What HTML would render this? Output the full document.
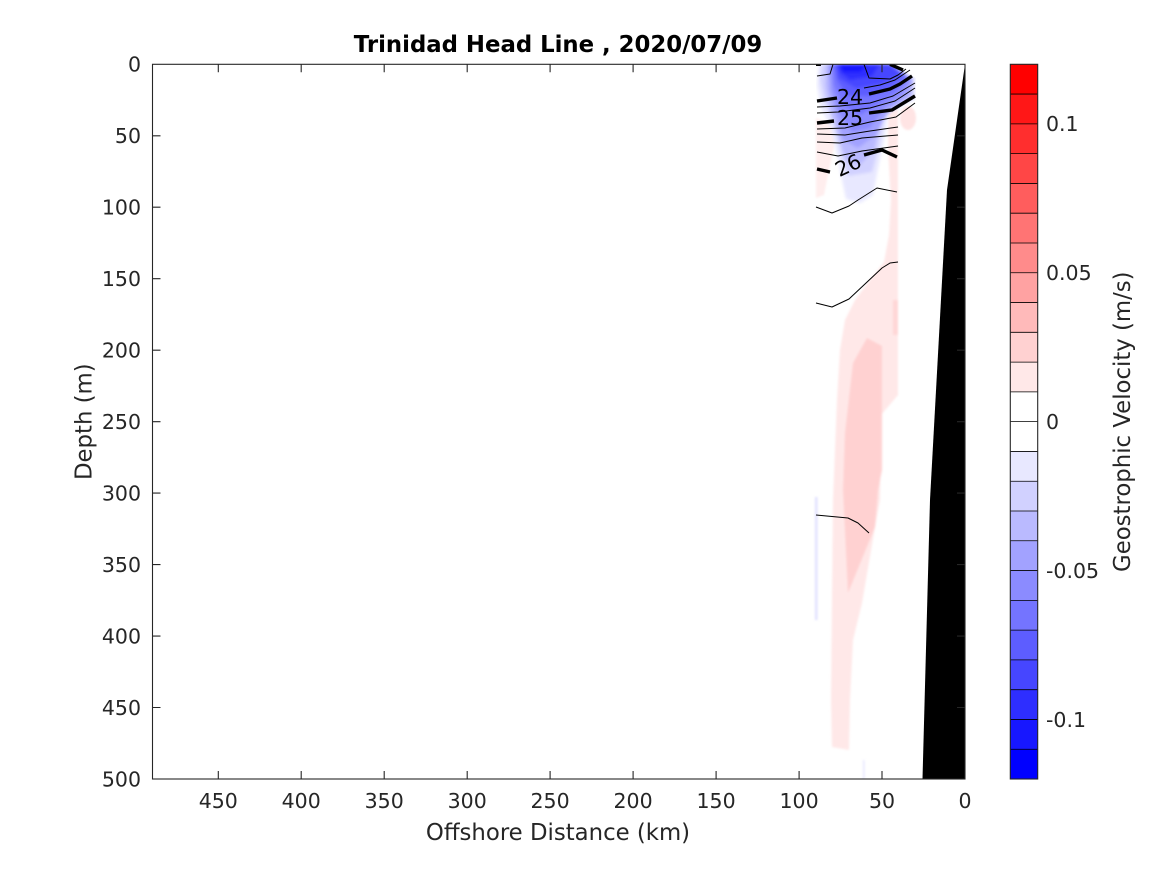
<!DOCTYPE html>
<html><head><meta charset="utf-8"><style>html,body{margin:0;padding:0;background:#fff}svg{display:block}</style></head>
<body>
<svg width="1167" height="875" viewBox="0 0 1167 875" xmlns="http://www.w3.org/2000/svg" font-family="'DejaVu Sans','Liberation Sans',sans-serif">
<rect width="1167" height="875" fill="#fff"/>
<defs>
<clipPath id="ax"><rect x="152.5" y="64.3" width="812.5" height="714.7"/></clipPath>
<clipPath id="dat"><polygon points="816,64.3 893,64.3 916,78 916,100 899,112 899,300 816,300"/></clipPath>
<filter id="bl" x="-30%" y="-30%" width="160%" height="160%"><feGaussianBlur stdDeviation="1.6"/></filter>
<filter id="bl2" x="-30%" y="-30%" width="160%" height="160%"><feGaussianBlur stdDeviation="1"/></filter>
</defs>

<g clip-path="url(#ax)">
  <!-- pink areas -->
  <g filter="url(#bl2)">
    <polygon fill="rgb(255,232,232)" points="888,108 898,108 898,395 881,415 880,500 875,527 862,603 853,640 850,700 849,750 832,747 831,700 832,600 833,500 837,400 840,350 845,320 855,300 870,280 884,262 889,235 891,200 888,150"/>
    <polygon fill="rgb(255,209,209)" points="867,338 882,346 882,470 878,490 875,527 848,593 843,490 845,433 853,363"/>
    <polygon fill="rgb(255,215,215)" points="893,300 898,300 898,335 893,335"/>
    <ellipse cx="908" cy="118" rx="8" ry="12" fill="rgb(255,228,228)"/>
    <polygon fill="rgb(255,238,238)" points="816,118 832,124 836,140 830,165 824,195 816,198"/>
    <rect x="815" y="497" width="2.5" height="123" fill="rgb(225,225,255)"/>
    <rect x="863" y="760" width="1.5" height="19" fill="rgb(230,230,255)"/>
  </g>
  <!-- blue areas -->
  <g clip-path="url(#dat)">
  <g filter="url(#bl)">
    <polygon fill="rgb(232,232,255)" points="819,64 893,64 915,78 915,100 902,106 888,114 884,140 878,168 873,195 860,203 846,199 841,175 836,150 831,128 821,108 817,85"/>
    <polygon fill="rgb(209,209,255)" points="822,64 893,64 914,79 913,97 897,106 884,118 879,145 872,172 848,176 840,150 834,124 824,100 820,80"/>
    <polygon fill="rgb(186,186,255)" points="826,64 893,64 913,79 912,97 893,108 880,125 874,150 860,165 846,160 838,135 830,110 825,85"/>
    <polygon fill="rgb(162,162,255)" points="828,64 893,64 912,80 908,96 888,110 876,135 858,148 843,140 836,115 829,90"/>
    <polygon fill="rgb(139,139,255)" points="830,64 892,64 910,80 902,95 884,108 870,128 852,132 840,115 832,90"/>
    <polygon fill="rgb(116,116,255)" points="832,64 892,64 908,78 896,92 878,104 860,115 843,105 834,85"/>
    <polygon fill="rgb(93,93,255)" points="834,64 890,64 905,76 890,88 870,96 848,96 837,80"/>
    <polygon fill="rgb(70,70,255)" points="836,64 888,64 900,74 880,84 856,88 839,78"/>
    <polygon fill="rgb(46,46,255)" points="838,64 880,64 872,76 850,80 840,72"/>
    <polygon fill="rgb(23,23,255)" points="840,64 868,64 860,72 843,72"/>
  </g>
  </g>

  <!-- bathymetry -->
  <polygon fill="#000" points="965,64.3 947,190 930,500 922.5,779 965,779"/>

  <!-- contour lines -->
  <g fill="none" stroke="#000" stroke-width="1" stroke-linejoin="round">
    <polyline points="817,76 830,74 833,64.3"/>
    <polyline points="864,64.3 869,78 890,79 898,75 906,69"/>
    <polyline points="864,88 880,85 895,80 910,70"/>
    <polyline points="817,107 840,106 870,103 893,96 915,83"/>
    <polyline points="817,113 838,112 870,108 895,101 915,88"/>
    <polyline points="817,129 845,128 870,122 896,117 915,103"/>
    <polyline points="817,134 845,135 870,131 898,127"/>
    <polyline points="817,142 840,143 862,138 898,135"/>
    <polyline points="817,152 838,156 862,151 898,146"/>
    <polyline points="816,207 832,213 849,206 858,200 877,188 897,192"/>
    <polyline points="816,303 832,307 849,299 882,268 890,263 898,262"/>
    <polyline points="816,515 848,518 858,523 869,533"/>
  </g>
  <g fill="none" stroke="#000" stroke-width="3.4" stroke-linejoin="round">
    <polyline points="817,101 837,98"/>
    <polyline points="869,94 890,89 900,84 912,76"/>
    <polyline points="817,123 834,121"/>
    <polyline points="869,113 892,110 915,96"/>
    <polyline points="817,169 830,172"/>
    <polyline points="864,155 882,150 897,157"/>
    <polyline points="890,64.3 903,70"/>
    <polyline points="816,64.3 821,64.3"/>
  </g>
  <g font-size="20.5" fill="#000" text-anchor="middle">
    <text x="850" y="104">24</text>
    <text x="850" y="125">25</text>
    <text transform="translate(848,165) rotate(-25)" y="7.5">26</text>
  </g>
</g>

<!-- axes box -->
<g stroke="#262626" stroke-width="1.1" fill="none">
  <rect x="152.5" y="64.3" width="812.5" height="714.7"/>
  <path d="M152.5,135.8h8M152.5,207.2h8M152.5,278.7h8M152.5,350.2h8M152.5,421.7h8M152.5,493.1h8M152.5,564.6h8M152.5,636.1h8M152.5,707.5h8
           M965,135.8h-8M965,207.2h-8M965,278.7h-8M965,350.2h-8M965,421.7h-8M965,493.1h-8M965,564.6h-8M965,636.1h-8M965,707.5h-8"/>
  <path d="M218.3,64.3v8M301.2,64.3v8M384.2,64.3v8M467.2,64.3v8M550.1,64.3v8M633.1,64.3v8M716.1,64.3v8M799.1,64.3v8M882,64.3v8
           M218.3,779v-8M301.2,779v-8M384.2,779v-8M467.2,779v-8M550.1,779v-8M633.1,779v-8M716.1,779v-8M799.1,779v-8M882,779v-8"/>
</g>

<!-- tick labels -->
<g font-size="20.5" fill="#262626">
  <g text-anchor="end">
    <text x="141" y="71.6">0</text>
    <text x="141" y="143.1">50</text>
    <text x="141" y="214.5">100</text>
    <text x="141" y="286">150</text>
    <text x="141" y="357.5">200</text>
    <text x="141" y="429">250</text>
    <text x="141" y="500.4">300</text>
    <text x="141" y="571.9">350</text>
    <text x="141" y="643.4">400</text>
    <text x="141" y="714.8">450</text>
    <text x="141" y="786.3">500</text>
  </g>
  <g text-anchor="middle">
    <text x="218.3" y="808">450</text>
    <text x="301.2" y="808">400</text>
    <text x="384.2" y="808">350</text>
    <text x="467.2" y="808">300</text>
    <text x="550.1" y="808">250</text>
    <text x="633.1" y="808">200</text>
    <text x="716.1" y="808">150</text>
    <text x="799.1" y="808">100</text>
    <text x="882" y="808">50</text>
    <text x="965" y="808">0</text>
  </g>
</g>

<!-- title and axis labels -->
<text x="558" y="52" text-anchor="middle" font-weight="bold" font-size="22.8" fill="#000">Trinidad Head Line , 2020/07/09</text>
<text x="558" y="840" text-anchor="middle" font-size="22.8" fill="#262626">Offshore Distance (km)</text>
<text transform="translate(91.5,421.7) rotate(-90)" text-anchor="middle" font-size="22.8" fill="#262626">Depth (m)</text>

<!-- colorbar -->
<g>
  <rect x="1010.3" y="64.3" width="27.4" height="29.78" fill="rgb(255,0,0)"/>
  <rect x="1010.3" y="94.08" width="27.4" height="29.78" fill="rgb(255,23,23)"/>
  <rect x="1010.3" y="123.86" width="27.4" height="29.78" fill="rgb(255,46,46)"/>
  <rect x="1010.3" y="153.64" width="27.4" height="29.78" fill="rgb(255,70,70)"/>
  <rect x="1010.3" y="183.42" width="27.4" height="29.78" fill="rgb(255,93,93)"/>
  <rect x="1010.3" y="213.2" width="27.4" height="29.78" fill="rgb(255,116,116)"/>
  <rect x="1010.3" y="242.98" width="27.4" height="29.78" fill="rgb(255,139,139)"/>
  <rect x="1010.3" y="272.76" width="27.4" height="29.78" fill="rgb(255,162,162)"/>
  <rect x="1010.3" y="302.54" width="27.4" height="29.78" fill="rgb(255,186,186)"/>
  <rect x="1010.3" y="332.32" width="27.4" height="29.78" fill="rgb(255,209,209)"/>
  <rect x="1010.3" y="362.1" width="27.4" height="29.78" fill="rgb(255,232,232)"/>
  <rect x="1010.3" y="391.88" width="27.4" height="29.78" fill="rgb(255,255,255)"/>
  <rect x="1010.3" y="421.66" width="27.4" height="29.78" fill="rgb(255,255,255)"/>
  <rect x="1010.3" y="451.44" width="27.4" height="29.78" fill="rgb(232,232,255)"/>
  <rect x="1010.3" y="481.22" width="27.4" height="29.78" fill="rgb(209,209,255)"/>
  <rect x="1010.3" y="511" width="27.4" height="29.78" fill="rgb(186,186,255)"/>
  <rect x="1010.3" y="540.78" width="27.4" height="29.78" fill="rgb(162,162,255)"/>
  <rect x="1010.3" y="570.56" width="27.4" height="29.78" fill="rgb(139,139,255)"/>
  <rect x="1010.3" y="600.34" width="27.4" height="29.78" fill="rgb(116,116,255)"/>
  <rect x="1010.3" y="630.12" width="27.4" height="29.78" fill="rgb(93,93,255)"/>
  <rect x="1010.3" y="659.9" width="27.4" height="29.78" fill="rgb(70,70,255)"/>
  <rect x="1010.3" y="689.68" width="27.4" height="29.78" fill="rgb(46,46,255)"/>
  <rect x="1010.3" y="719.46" width="27.4" height="29.78" fill="rgb(23,23,255)"/>
  <rect x="1010.3" y="749.24" width="27.4" height="29.76" fill="rgb(0,0,255)"/>
  <path stroke="#000" stroke-width="0.8" fill="none" d="M1010.3,94.08h27.4M1010.3,123.86h27.4M1010.3,153.64h27.4M1010.3,183.42h27.4M1010.3,213.2h27.4M1010.3,242.98h27.4M1010.3,272.76h27.4M1010.3,302.54h27.4M1010.3,332.32h27.4M1010.3,362.1h27.4M1010.3,391.88h27.4M1010.3,421.66h27.4M1010.3,451.44h27.4M1010.3,481.22h27.4M1010.3,511h27.4M1010.3,540.78h27.4M1010.3,570.56h27.4M1010.3,600.34h27.4M1010.3,630.12h27.4M1010.3,659.9h27.4M1010.3,689.68h27.4M1010.3,719.46h27.4M1010.3,749.24h27.4"/>
  <rect x="1010.3" y="64.3" width="27.4" height="714.7" fill="none" stroke="#262626" stroke-width="1.1"/>
</g>
<g font-size="20.5" fill="#262626">
  <text x="1046" y="131.2">0.1</text>
  <text x="1046" y="280.1">0.05</text>
  <text x="1046" y="429">0</text>
  <text x="1046" y="577.9">-0.05</text>
  <text x="1046" y="726.8">-0.1</text>
</g>
<text transform="translate(1130,421.7) rotate(-90)" text-anchor="middle" font-size="22.8" fill="#262626">Geostrophic Velocity (m/s)</text>
</svg>
</body></html>
